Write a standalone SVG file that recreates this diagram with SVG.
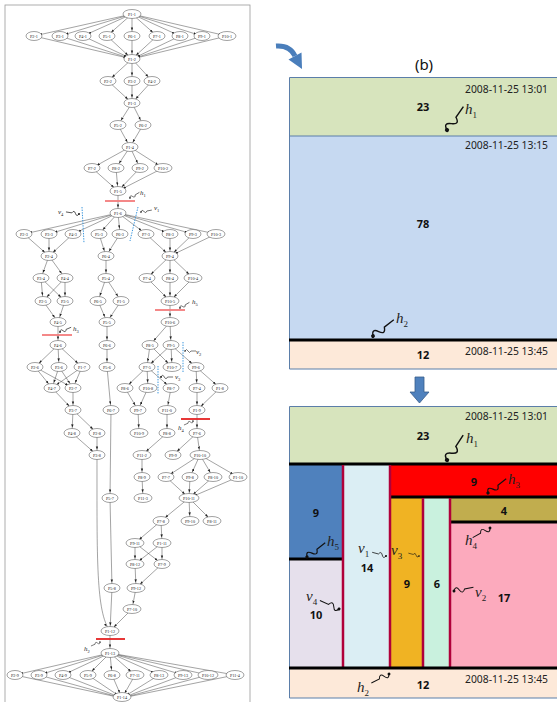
<svg xmlns="http://www.w3.org/2000/svg" width="557" height="702" viewBox="0 0 557 702">
<style>
.n ellipse{fill:#fff;stroke:#444;stroke-width:0.5}
.n text{font-family:"Liberation Serif",serif;font-size:4.2px;text-anchor:middle;fill:#222}
.e line,.e path{stroke:#333;stroke-width:0.45;fill:none;marker-end:url(#ah)}
.cut{stroke-width:1.8}
.vd{stroke:#3a96dd;stroke-width:1;stroke-dasharray:1.4 1.2;fill:none}
.lt{font-family:"Liberation Serif",serif;font-style:italic;font-size:7px;fill:#222}
.lt .s{font-size:4.5px;font-style:normal}
.d{font-family:"Noto Sans","Liberation Sans",sans-serif;font-size:11.5px;fill:#222;text-anchor:end}
.b{font-family:"Noto Sans","Liberation Sans",sans-serif;font-weight:bold;font-size:11px;text-anchor:middle;fill:#111}
.it{font-family:"Liberation Serif",serif;font-style:italic;font-size:15px;fill:#222}
.it .s{font-size:9px;font-style:normal}
.bk{stroke:#000;stroke-width:3}
.cr{stroke:#b0003a;stroke-width:2.5}
.pb{stroke:#5b7ea9;stroke-width:1}
</style>
<defs>
<marker id="ah" markerUnits="userSpaceOnUse" markerWidth="10" markerHeight="3" refX="8.6" refY="1.2" orient="auto"><path d="M0,0 L3,1.2 L0,2.4z" fill="#222"/></marker>
<g id="sq"><path d="M0,0 q3,-6 6,0 t6,0 l10,0" fill="none" stroke="#111" stroke-width="1.1"/><circle r="1.6" fill="#111"/></g>
</defs>

<!-- left frame -->
<rect x="5" y="5" width="245" height="700" fill="#fff" stroke="#999" stroke-width="0.8"/>

<g id="connectors" class="e">
<line x1="132" y1="14" x2="34" y2="36"/><line x1="132" y1="14" x2="60" y2="36"/><line x1="132" y1="14" x2="83" y2="36"/><line x1="132" y1="14" x2="107" y2="36"/><line x1="132" y1="14" x2="132" y2="36"/><line x1="132" y1="14" x2="157" y2="36"/><line x1="132" y1="14" x2="180" y2="36"/><line x1="132" y1="14" x2="202" y2="36"/><line x1="132" y1="14" x2="227" y2="36"/>
<line x1="34" y1="36" x2="132" y2="59"/><line x1="60" y1="36" x2="132" y2="59"/><line x1="83" y1="36" x2="132" y2="59"/><line x1="107" y1="36" x2="132" y2="59"/><line x1="132" y1="36" x2="132" y2="59"/><line x1="157" y1="36" x2="132" y2="59"/><line x1="180" y1="36" x2="132" y2="59"/><line x1="202" y1="36" x2="132" y2="59"/><line x1="227" y1="36" x2="132" y2="59"/>
<line x1="132" y1="59" x2="108" y2="81"/><line x1="132" y1="59" x2="132" y2="81"/><line x1="132" y1="59" x2="152" y2="81"/>
<line x1="108" y1="81" x2="132" y2="103"/><line x1="132" y1="81" x2="132" y2="103"/><line x1="152" y1="81" x2="132" y2="103"/>
<line x1="132" y1="103" x2="118" y2="125"/><line x1="132" y1="103" x2="143" y2="125"/>
<line x1="118" y1="125" x2="130" y2="147"/><line x1="143" y1="125" x2="130" y2="147"/>
<line x1="130" y1="147" x2="92" y2="168"/><line x1="130" y1="147" x2="116" y2="168"/><line x1="130" y1="147" x2="140" y2="168"/><line x1="130" y1="147" x2="163" y2="168"/>
<line x1="92" y1="168" x2="118" y2="191"/><line x1="116" y1="168" x2="118" y2="191"/><line x1="140" y1="168" x2="118" y2="191"/><line x1="163" y1="168" x2="118" y2="191"/>
<line x1="118" y1="191" x2="118" y2="213"/>
<line x1="118" y1="213" x2="24" y2="234"/><line x1="118" y1="213" x2="49" y2="234"/><line x1="118" y1="213" x2="73" y2="234"/><line x1="118" y1="213" x2="99" y2="234"/><line x1="118" y1="213" x2="120" y2="234"/><line x1="118" y1="213" x2="146" y2="234"/><line x1="118" y1="213" x2="170" y2="234"/><line x1="118" y1="213" x2="193" y2="234"/><line x1="118" y1="213" x2="216" y2="234"/>
<line x1="24" y1="234" x2="49" y2="256"/><line x1="49" y1="234" x2="49" y2="256"/><line x1="73" y1="234" x2="49" y2="256"/>
<line x1="99" y1="234" x2="106" y2="256"/><line x1="120" y1="234" x2="106" y2="256"/>
<line x1="146" y1="234" x2="170" y2="256"/><line x1="170" y1="234" x2="170" y2="256"/><line x1="193" y1="234" x2="170" y2="256"/><line x1="216" y1="234" x2="170" y2="256"/>
<line x1="49" y1="256" x2="41" y2="278"/><line x1="49" y1="256" x2="65" y2="278"/>
<line x1="41" y1="278" x2="43" y2="301"/><line x1="41" y1="278" x2="65" y2="301"/><line x1="65" y1="278" x2="43" y2="301"/><line x1="65" y1="278" x2="65" y2="301"/>
<line x1="43" y1="301" x2="58" y2="322"/><line x1="65" y1="301" x2="58" y2="322"/>
<line x1="58" y1="322" x2="58" y2="345"/>
<line x1="106" y1="256" x2="106" y2="278"/>
<line x1="106" y1="278" x2="98" y2="301"/><line x1="106" y1="278" x2="121" y2="301"/>
<line x1="98" y1="301" x2="107" y2="322"/><line x1="121" y1="301" x2="107" y2="322"/>
<line x1="107" y1="322" x2="107" y2="345"/>
<line x1="107" y1="345" x2="107" y2="367"/>
<line x1="107" y1="367" x2="111" y2="410"/>
<line x1="111" y1="410" x2="110" y2="498"/>
<line x1="110" y1="498" x2="112" y2="588"/>
<line x1="112" y1="588" x2="110" y2="631"/>
<line x1="170" y1="256" x2="147" y2="278"/><line x1="170" y1="256" x2="170" y2="278"/><line x1="170" y1="256" x2="193" y2="278"/>
<line x1="147" y1="278" x2="170" y2="301"/><line x1="170" y1="278" x2="170" y2="301"/><line x1="193" y1="278" x2="170" y2="301"/>
<line x1="170" y1="301" x2="170" y2="322"/>
<line x1="170" y1="322" x2="150" y2="345"/><line x1="170" y1="322" x2="171" y2="345"/>
<line x1="150" y1="345" x2="147" y2="367"/><line x1="150" y1="345" x2="172" y2="367"/>
<line x1="171" y1="345" x2="147" y2="367"/><line x1="171" y1="345" x2="172" y2="367"/><line x1="171" y1="345" x2="196" y2="367"/>
<line x1="58" y1="345" x2="35" y2="367"/><line x1="58" y1="345" x2="59" y2="367"/><line x1="58" y1="345" x2="82" y2="367"/>
<line x1="35" y1="367" x2="52" y2="388"/><line x1="35" y1="367" x2="73" y2="388"/><line x1="59" y1="367" x2="52" y2="388"/><line x1="59" y1="367" x2="73" y2="388"/><line x1="82" y1="367" x2="52" y2="388"/><line x1="82" y1="367" x2="73" y2="388"/>
<line x1="52" y1="388" x2="73" y2="410"/><line x1="73" y1="388" x2="73" y2="410"/>
<line x1="73" y1="410" x2="72" y2="433"/><line x1="73" y1="410" x2="97" y2="433"/>
<line x1="72" y1="433" x2="97" y2="455"/><line x1="97" y1="433" x2="97" y2="455"/>
<path d="M97,455 C97,560 96,612 110,631"/>
<line x1="147" y1="367" x2="125" y2="388"/><line x1="147" y1="367" x2="148" y2="388"/><line x1="147" y1="367" x2="171" y2="388"/>
<line x1="196" y1="367" x2="197" y2="388"/><line x1="196" y1="367" x2="220" y2="388"/>
<line x1="125" y1="388" x2="138" y2="410"/><line x1="148" y1="388" x2="138" y2="410"/>
<line x1="171" y1="388" x2="167" y2="410"/>
<line x1="197" y1="388" x2="197" y2="410"/><line x1="220" y1="388" x2="197" y2="410"/>
<line x1="138" y1="410" x2="139" y2="433"/>
<line x1="167" y1="410" x2="167" y2="433"/>
<line x1="197" y1="410" x2="197" y2="433"/>
<line x1="167" y1="433" x2="142" y2="455"/>
<line x1="197" y1="433" x2="173" y2="455"/><line x1="197" y1="433" x2="200" y2="455"/>
<line x1="142" y1="455" x2="142" y2="477"/>
<line x1="142" y1="477" x2="143" y2="498"/>
<line x1="200" y1="455" x2="166" y2="477"/><line x1="200" y1="455" x2="190" y2="477"/><line x1="200" y1="455" x2="213" y2="477"/><line x1="200" y1="455" x2="238" y2="477"/>
<line x1="166" y1="477" x2="189" y2="498"/><line x1="190" y1="477" x2="189" y2="498"/><line x1="213" y1="477" x2="189" y2="498"/><line x1="238" y1="477" x2="189" y2="498"/>
<line x1="189" y1="498" x2="161" y2="521"/><line x1="189" y1="498" x2="190" y2="521"/><line x1="189" y1="498" x2="212" y2="521"/>
<line x1="161" y1="521" x2="135" y2="543"/><line x1="161" y1="521" x2="162" y2="543"/>
<line x1="135" y1="543" x2="135" y2="564"/><line x1="135" y1="543" x2="162" y2="564"/><line x1="162" y1="543" x2="135" y2="564"/><line x1="162" y1="543" x2="162" y2="564"/>
<line x1="135" y1="564" x2="136" y2="588"/><line x1="162" y1="564" x2="136" y2="588"/>
<line x1="136" y1="588" x2="132" y2="609"/>
<line x1="132" y1="609" x2="110" y2="631"/>
<line x1="110" y1="631" x2="110" y2="653"/>
<line x1="110" y1="653" x2="15" y2="675"/><line x1="110" y1="653" x2="39" y2="675"/><line x1="110" y1="653" x2="63" y2="675"/><line x1="110" y1="653" x2="88" y2="675"/><line x1="110" y1="653" x2="112" y2="675"/><line x1="110" y1="653" x2="135" y2="675"/><line x1="110" y1="653" x2="159" y2="675"/><line x1="110" y1="653" x2="183" y2="675"/><line x1="110" y1="653" x2="208" y2="675"/><line x1="110" y1="653" x2="235" y2="675"/>
<line x1="15" y1="675" x2="122" y2="698"/><line x1="39" y1="675" x2="122" y2="698"/><line x1="63" y1="675" x2="122" y2="698"/><line x1="88" y1="675" x2="122" y2="698"/><line x1="112" y1="675" x2="122" y2="698"/><line x1="135" y1="675" x2="122" y2="698"/><line x1="159" y1="675" x2="122" y2="698"/><line x1="183" y1="675" x2="122" y2="698"/><line x1="208" y1="675" x2="122" y2="698"/><line x1="235" y1="675" x2="122" y2="698"/>
</g>

<g id="nodes">
<g id="P1-1" class="n"><ellipse cx="132" cy="14" rx="9" ry="4.5"/><text x="132" y="15.5">P1-1</text></g>
<g id="P2-1" class="n"><ellipse cx="34" cy="36" rx="8" ry="4.5"/><text x="34" y="37.5">P2-1</text></g>
<g id="P3-1" class="n"><ellipse cx="60" cy="36" rx="8" ry="4.5"/><text x="60" y="37.5">P3-1</text></g>
<g id="P4-1" class="n"><ellipse cx="83" cy="36" rx="8" ry="4.5"/><text x="83" y="37.5">P4-1</text></g>
<g id="P5-1" class="n"><ellipse cx="107" cy="36" rx="8" ry="4.5"/><text x="107" y="37.5">P5-1</text></g>
<g id="P6-1" class="n"><ellipse cx="132" cy="36" rx="8" ry="4.5"/><text x="132" y="37.5">P6-1</text></g>
<g id="P7-1" class="n"><ellipse cx="157" cy="36" rx="8" ry="4.5"/><text x="157" y="37.5">P7-1</text></g>
<g id="P8-1" class="n"><ellipse cx="180" cy="36" rx="8" ry="4.5"/><text x="180" y="37.5">P8-1</text></g>
<g id="P9-1" class="n"><ellipse cx="202" cy="36" rx="8" ry="4.5"/><text x="202" y="37.5">P9-1</text></g>
<g id="P10-1" class="n"><ellipse cx="227" cy="36" rx="9" ry="4.5"/><text x="227" y="37.5">P10-1</text></g>
<g id="P1-2" class="n"><ellipse cx="132" cy="59" rx="8" ry="4.5"/><text x="132" y="60.5">P1-2</text></g>
<g id="P2-2" class="n"><ellipse cx="108" cy="81" rx="8" ry="4.5"/><text x="108" y="82.5">P2-2</text></g>
<g id="P3-2" class="n"><ellipse cx="132" cy="81" rx="8" ry="4.5"/><text x="132" y="82.5">P3-2</text></g>
<g id="P4-2" class="n"><ellipse cx="152" cy="81" rx="8" ry="4.5"/><text x="152" y="82.5">P4-2</text></g>
<g id="P1-3" class="n"><ellipse cx="132" cy="103" rx="8" ry="4.5"/><text x="132" y="104.5">P1-3</text></g>
<g id="P5-2" class="n"><ellipse cx="118" cy="125" rx="8" ry="4.5"/><text x="118" y="126.5">P5-2</text></g>
<g id="P6-2" class="n"><ellipse cx="143" cy="125" rx="8" ry="4.5"/><text x="143" y="126.5">P6-2</text></g>
<g id="P1-4" class="n"><ellipse cx="130" cy="147" rx="8" ry="4.5"/><text x="130" y="148.5">P1-4</text></g>
<g id="P7-2" class="n"><ellipse cx="92" cy="168" rx="8" ry="4.5"/><text x="92" y="169.5">P7-2</text></g>
<g id="P8-2" class="n"><ellipse cx="116" cy="168" rx="8" ry="4.5"/><text x="116" y="169.5">P8-2</text></g>
<g id="P9-2" class="n"><ellipse cx="140" cy="168" rx="8" ry="4.5"/><text x="140" y="169.5">P9-2</text></g>
<g id="P10-2" class="n"><ellipse cx="163" cy="168" rx="9" ry="4.5"/><text x="163" y="169.5">P10-2</text></g>
<g id="P1-5" class="n"><ellipse cx="118" cy="191" rx="8" ry="4.5"/><text x="118" y="192.5">P1-5</text></g>
<g id="P1-6" class="n"><ellipse cx="118" cy="213" rx="8" ry="4.5"/><text x="118" y="214.5">P1-6</text></g>
<g id="P2-3" class="n"><ellipse cx="24" cy="234" rx="8" ry="4.5"/><text x="24" y="235.5">P2-3</text></g>
<g id="P3-3" class="n"><ellipse cx="49" cy="234" rx="8" ry="4.5"/><text x="49" y="235.5">P3-3</text></g>
<g id="P4-3" class="n"><ellipse cx="73" cy="234" rx="8" ry="4.5"/><text x="73" y="235.5">P4-3</text></g>
<g id="P5-3" class="n"><ellipse cx="99" cy="234" rx="8" ry="4.5"/><text x="99" y="235.5">P5-3</text></g>
<g id="P6-3" class="n"><ellipse cx="120" cy="234" rx="8" ry="4.5"/><text x="120" y="235.5">P6-3</text></g>
<g id="P7-3" class="n"><ellipse cx="146" cy="234" rx="8" ry="4.5"/><text x="146" y="235.5">P7-3</text></g>
<g id="P8-3" class="n"><ellipse cx="170" cy="234" rx="8" ry="4.5"/><text x="170" y="235.5">P8-3</text></g>
<g id="P9-3" class="n"><ellipse cx="193" cy="234" rx="8" ry="4.5"/><text x="193" y="235.5">P9-3</text></g>
<g id="P10-3" class="n"><ellipse cx="216" cy="234" rx="9" ry="4.5"/><text x="216" y="235.5">P10-3</text></g>
<g id="P2-4" class="n"><ellipse cx="49" cy="256" rx="8" ry="4.5"/><text x="49" y="257.5">P2-4</text></g>
<g id="P6-4" class="n"><ellipse cx="106" cy="256" rx="8" ry="4.5"/><text x="106" y="257.5">P6-4</text></g>
<g id="P9-4" class="n"><ellipse cx="170" cy="256" rx="8" ry="4.5"/><text x="170" y="257.5">P9-4</text></g>
<g id="P3-4" class="n"><ellipse cx="41" cy="278" rx="8" ry="4.5"/><text x="41" y="279.5">P3-4</text></g>
<g id="P4-4" class="n"><ellipse cx="65" cy="278" rx="8" ry="4.5"/><text x="65" y="279.5">P4-4</text></g>
<g id="P5-4" class="n"><ellipse cx="106" cy="278" rx="8" ry="4.5"/><text x="106" y="279.5">P5-4</text></g>
<g id="P7-4" class="n"><ellipse cx="147" cy="278" rx="8" ry="4.5"/><text x="147" y="279.5">P7-4</text></g>
<g id="P8-4" class="n"><ellipse cx="170" cy="278" rx="8" ry="4.5"/><text x="170" y="279.5">P8-4</text></g>
<g id="P10-4" class="n"><ellipse cx="193" cy="278" rx="9" ry="4.5"/><text x="193" y="279.5">P10-4</text></g>
<g id="P2-5" class="n"><ellipse cx="43" cy="301" rx="8" ry="4.5"/><text x="43" y="302.5">P2-5</text></g>
<g id="P3-5" class="n"><ellipse cx="65" cy="301" rx="8" ry="4.5"/><text x="65" y="302.5">P3-5</text></g>
<g id="P6-5" class="n"><ellipse cx="98" cy="301" rx="8" ry="4.5"/><text x="98" y="302.5">P6-5</text></g>
<g id="P1-5b" class="n"><ellipse cx="121" cy="301" rx="8" ry="4.5"/><text x="121" y="302.5">P1-5</text></g>
<g id="P10-5" class="n"><ellipse cx="170" cy="301" rx="9" ry="4.5"/><text x="170" y="302.5">P10-5</text></g>
<g id="P4-5" class="n"><ellipse cx="58" cy="322" rx="8" ry="4.5"/><text x="58" y="323.5">P4-5</text></g>
<g id="P5-5" class="n"><ellipse cx="107" cy="322" rx="8" ry="4.5"/><text x="107" y="323.5">P5-5</text></g>
<g id="P10-6" class="n"><ellipse cx="170" cy="322" rx="9" ry="4.5"/><text x="170" y="323.5">P10-6</text></g>
<g id="P4-6" class="n"><ellipse cx="58" cy="345" rx="8" ry="4.5"/><text x="58" y="346.5">P4-6</text></g>
<g id="P6-6" class="n"><ellipse cx="107" cy="345" rx="8" ry="4.5"/><text x="107" y="346.5">P6-6</text></g>
<g id="P8-5" class="n"><ellipse cx="150" cy="345" rx="8" ry="4.5"/><text x="150" y="346.5">P8-5</text></g>
<g id="P9-5" class="n"><ellipse cx="171" cy="345" rx="8" ry="4.5"/><text x="171" y="346.5">P9-5</text></g>
<g id="P2-6" class="n"><ellipse cx="35" cy="367" rx="8" ry="4.5"/><text x="35" y="368.5">P2-6</text></g>
<g id="P3-6" class="n"><ellipse cx="59" cy="367" rx="8" ry="4.5"/><text x="59" y="368.5">P3-6</text></g>
<g id="P1-7" class="n"><ellipse cx="82" cy="367" rx="8" ry="4.5"/><text x="82" y="368.5">P1-7</text></g>
<g id="P5-6" class="n"><ellipse cx="107" cy="367" rx="8" ry="4.5"/><text x="107" y="368.5">P5-6</text></g>
<g id="P7-5" class="n"><ellipse cx="147" cy="367" rx="8" ry="4.5"/><text x="147" y="368.5">P7-5</text></g>
<g id="P10-7" class="n"><ellipse cx="172" cy="367" rx="9" ry="4.5"/><text x="172" y="368.5">P10-7</text></g>
<g id="P9-6" class="n"><ellipse cx="196" cy="367" rx="8" ry="4.5"/><text x="196" y="368.5">P9-6</text></g>
<g id="P4-7" class="n"><ellipse cx="52" cy="388" rx="8" ry="4.5"/><text x="52" y="389.5">P4-7</text></g>
<g id="P2-7" class="n"><ellipse cx="73" cy="388" rx="8" ry="4.5"/><text x="73" y="389.5">P2-7</text></g>
<g id="P8-6" class="n"><ellipse cx="125" cy="388" rx="8" ry="4.5"/><text x="125" y="389.5">P8-6</text></g>
<g id="P10-8" class="n"><ellipse cx="148" cy="388" rx="9" ry="4.5"/><text x="148" y="389.5">P10-8</text></g>
<g id="P8-7" class="n"><ellipse cx="171" cy="388" rx="8" ry="4.5"/><text x="171" y="389.5">P8-7</text></g>
<g id="P7-4b" class="n"><ellipse cx="197" cy="388" rx="8" ry="4.5"/><text x="197" y="389.5">P7-4</text></g>
<g id="P1-8" class="n"><ellipse cx="220" cy="388" rx="8" ry="4.5"/><text x="220" y="389.5">P1-8</text></g>
<g id="P3-7" class="n"><ellipse cx="73" cy="410" rx="8" ry="4.5"/><text x="73" y="411.5">P3-7</text></g>
<g id="P6-7" class="n"><ellipse cx="111" cy="410" rx="8" ry="4.5"/><text x="111" y="411.5">P6-7</text></g>
<g id="P9-7" class="n"><ellipse cx="138" cy="410" rx="8" ry="4.5"/><text x="138" y="411.5">P9-7</text></g>
<g id="P11-0" class="n"><ellipse cx="167" cy="410" rx="9" ry="4.5"/><text x="167" y="411.5">P11-0</text></g>
<g id="P1-9" class="n"><ellipse cx="197" cy="410" rx="8" ry="4.5"/><text x="197" y="411.5">P1-9</text></g>
<g id="P4-8" class="n"><ellipse cx="72" cy="433" rx="8" ry="4.5"/><text x="72" y="434.5">P4-8</text></g>
<g id="P2-8" class="n"><ellipse cx="97" cy="433" rx="8" ry="4.5"/><text x="97" y="434.5">P2-8</text></g>
<g id="P10-9" class="n"><ellipse cx="139" cy="433" rx="9" ry="4.5"/><text x="139" y="434.5">P10-9</text></g>
<g id="P8-8" class="n"><ellipse cx="167" cy="433" rx="8" ry="4.5"/><text x="167" y="434.5">P8-8</text></g>
<g id="P7-6" class="n"><ellipse cx="197" cy="433" rx="8" ry="4.5"/><text x="197" y="434.5">P7-6</text></g>
<g id="P3-8" class="n"><ellipse cx="97" cy="455" rx="8" ry="4.5"/><text x="97" y="456.5">P3-8</text></g>
<g id="P11-2" class="n"><ellipse cx="142" cy="455" rx="9" ry="4.5"/><text x="142" y="456.5">P11-2</text></g>
<g id="P9-9" class="n"><ellipse cx="173" cy="455" rx="8" ry="4.5"/><text x="173" y="456.5">P9-9</text></g>
<g id="P10-10" class="n"><ellipse cx="200" cy="455" rx="10" ry="4.5"/><text x="200" y="456.5">P10-10</text></g>
<g id="P8-9" class="n"><ellipse cx="142" cy="477" rx="8" ry="4.5"/><text x="142" y="478.5">P8-9</text></g>
<g id="P7-7" class="n"><ellipse cx="166" cy="477" rx="8" ry="4.5"/><text x="166" y="478.5">P7-7</text></g>
<g id="P9-8" class="n"><ellipse cx="190" cy="477" rx="8" ry="4.5"/><text x="190" y="478.5">P9-8</text></g>
<g id="P8-10" class="n"><ellipse cx="213" cy="477" rx="9" ry="4.5"/><text x="213" y="478.5">P8-10</text></g>
<g id="P1-10" class="n"><ellipse cx="238" cy="477" rx="9" ry="4.5"/><text x="238" y="478.5">P1-10</text></g>
<g id="P5-7" class="n"><ellipse cx="110" cy="498" rx="8" ry="4.5"/><text x="110" y="499.5">P5-7</text></g>
<g id="P11-3" class="n"><ellipse cx="143" cy="498" rx="9" ry="4.5"/><text x="143" y="499.5">P11-3</text></g>
<g id="P10-11" class="n"><ellipse cx="189" cy="498" rx="10" ry="4.5"/><text x="189" y="499.5">P10-11</text></g>
<g id="P7-8" class="n"><ellipse cx="161" cy="521" rx="8" ry="4.5"/><text x="161" y="522.5">P7-8</text></g>
<g id="P9-10" class="n"><ellipse cx="190" cy="521" rx="9" ry="4.5"/><text x="190" y="522.5">P9-10</text></g>
<g id="P8-11" class="n"><ellipse cx="212" cy="521" rx="9" ry="4.5"/><text x="212" y="522.5">P8-11</text></g>
<g id="P9-11" class="n"><ellipse cx="135" cy="543" rx="9" ry="4.5"/><text x="135" y="544.5">P9-11</text></g>
<g id="P1-11" class="n"><ellipse cx="162" cy="543" rx="9" ry="4.5"/><text x="162" y="544.5">P1-11</text></g>
<g id="P8-12" class="n"><ellipse cx="135" cy="564" rx="9" ry="4.5"/><text x="135" y="565.5">P8-12</text></g>
<g id="P7-9" class="n"><ellipse cx="162" cy="564" rx="8" ry="4.5"/><text x="162" y="565.5">P7-9</text></g>
<g id="P5-8" class="n"><ellipse cx="112" cy="588" rx="8" ry="4.5"/><text x="112" y="589.5">P5-8</text></g>
<g id="P9-12" class="n"><ellipse cx="136" cy="588" rx="9" ry="4.5"/><text x="136" y="589.5">P9-12</text></g>
<g id="P7-10" class="n"><ellipse cx="132" cy="609" rx="9" ry="4.5"/><text x="132" y="610.5">P7-10</text></g>
<g id="P1-12" class="n"><ellipse cx="110" cy="631" rx="9" ry="4.5"/><text x="110" y="632.5">P1-12</text></g>
<g id="P1-13" class="n"><ellipse cx="110" cy="653" rx="9" ry="4.5"/><text x="110" y="654.5">P1-13</text></g>
<g id="P2-9" class="n"><ellipse cx="15" cy="675" rx="8" ry="4.5"/><text x="15" y="676.5">P2-9</text></g>
<g id="P3-9" class="n"><ellipse cx="39" cy="675" rx="8" ry="4.5"/><text x="39" y="676.5">P3-9</text></g>
<g id="P4-9" class="n"><ellipse cx="63" cy="675" rx="8" ry="4.5"/><text x="63" y="676.5">P4-9</text></g>
<g id="P5-9" class="n"><ellipse cx="88" cy="675" rx="8" ry="4.5"/><text x="88" y="676.5">P5-9</text></g>
<g id="P6-8" class="n"><ellipse cx="112" cy="675" rx="8" ry="4.5"/><text x="112" y="676.5">P6-8</text></g>
<g id="P7-11" class="n"><ellipse cx="135" cy="675" rx="9" ry="4.5"/><text x="135" y="676.5">P7-11</text></g>
<g id="P8-13" class="n"><ellipse cx="159" cy="675" rx="9" ry="4.5"/><text x="159" y="676.5">P8-13</text></g>
<g id="P9-13" class="n"><ellipse cx="183" cy="675" rx="9" ry="4.5"/><text x="183" y="676.5">P9-13</text></g>
<g id="P10-12" class="n"><ellipse cx="208" cy="675" rx="10" ry="4.5"/><text x="208" y="676.5">P10-12</text></g>
<g id="P11-4" class="n"><ellipse cx="235" cy="675" rx="9" ry="4.5"/><text x="235" y="676.5">P11-4</text></g>
<g id="P1-14" class="n"><ellipse cx="122" cy="697" rx="9" ry="4.5"/><text x="122" y="698.5">P1-14</text></g>
</g>

<!-- cuts on left graph -->
<g id="cuts">
<line class="cut" x1="105" y1="201" x2="135" y2="201" stroke="#f37b7b"/>
<line class="cut" x1="155" y1="310" x2="185" y2="310" stroke="#f37b7b"/>
<line class="cut" x1="42" y1="335" x2="72" y2="335" stroke="#f37b7b"/>
<line class="cut" x1="181" y1="419" x2="210" y2="419" stroke="#e52222"/>
<line class="cut" x1="96" y1="639" x2="125" y2="639" stroke="#e52222"/>
<path class="vd" d="M82,207 L84,243"/>
<path class="vd" d="M138,207 L130,241"/>
<path class="vd" d="M183,342 L183,372"/>
<path class="vd" d="M158,366 L158,394"/>
<use href="#sq" transform="translate(130,198) rotate(-31) scale(0.5)"/>
<use href="#sq" transform="translate(79,214) rotate(-171) scale(0.6)"/>
<use href="#sq" transform="translate(141,212) rotate(-10) scale(0.5)"/>
<use href="#sq" transform="translate(180,308) rotate(-31) scale(0.5)"/>
<use href="#sq" transform="translate(60,332) rotate(-23) scale(0.55)"/>
<use href="#sq" transform="translate(185,351) scale(0.5)"/>
<use href="#sq" transform="translate(161,377) scale(0.55)"/>
<use href="#sq" transform="translate(193,421) rotate(156) scale(0.45)"/>
<use href="#sq" transform="translate(100,642) rotate(156) scale(0.45)"/>
<text class="lt" x="140" y="195">h<tspan class="s" dy="2">1</tspan></text>
<text class="lt" x="58" y="214">v<tspan class="s" dy="2">4</tspan></text>
<text class="lt" x="154" y="210">v<tspan class="s" dy="2">1</tspan></text>
<text class="lt" x="192" y="304">h<tspan class="s" dy="2">5</tspan></text>
<text class="lt" x="73" y="331">h<tspan class="s" dy="2">3</tspan></text>
<text class="lt" x="196" y="354">v<tspan class="s" dy="2">2</tspan></text>
<text class="lt" x="175" y="379">v<tspan class="s" dy="2">3</tspan></text>
<text class="lt" x="178" y="430">h<tspan class="s" dy="2">4</tspan></text>
<text class="lt" x="84" y="651">h<tspan class="s" dy="2">2</tspan></text>
</g>

<!-- curved arrow -->
<g id="curved-arrow">
<path d="M276,46 Q290,45 295,56" fill="none" stroke="#4a7ebb" stroke-width="5"/>
<polygon points="288.5,59.5 301.5,52.5 302,69" fill="#4a7ebb"/>
</g>
<text x="424" y="70" font-family="Noto Sans, Liberation Sans, sans-serif" font-size="15" text-anchor="middle" fill="#111">(b)</text>

<!-- top panel -->
<g id="panel-top">
<rect x="289.5" y="77.5" width="267.5" height="58.5" fill="#d7e4bd"/>
<rect x="289.5" y="136" width="267.5" height="203" fill="#c6d9f1"/>
<rect x="289.5" y="340" width="267.5" height="29" fill="#fde9d9"/>
<path class="pb" d="M557,77.5 H289.5 V369 H557 M289.5,136 H557" fill="none"/>
<line class="bk" x1="289" y1="340" x2="557" y2="340"/>
<text class="d" x="548" y="93" textLength="83" lengthAdjust="spacingAndGlyphs">2008-11-25 13:01</text>
<text class="d" x="548" y="149" textLength="83" lengthAdjust="spacingAndGlyphs">2008-11-25 13:15</text>
<text class="d" x="548" y="355" textLength="83" lengthAdjust="spacingAndGlyphs">2008-11-25 13:45</text>
<text class="b" x="423" y="111">23</text>
<text class="b" x="423" y="228">78</text>
<text class="b" x="423" y="359">12</text>
<use href="#sq" transform="translate(447,130) rotate(-55) scale(1.3)"/>
<text class="it" x="465" y="114">h<tspan class="s" dy="4">1</tspan></text>
<use href="#sq" transform="translate(373,336) rotate(-38) scale(1.2)"/>
<text class="it" x="396" y="323">h<tspan class="s" dy="4">2</tspan></text>
</g>

<!-- down arrow -->
<g id="down-arrow">
<polygon points="415,377 424,377 424,392 429,392 419.5,403 410,392 415,392" fill="#4f81bd" stroke="#385d8a" stroke-width="0.8"/>
</g>

<!-- bottom panel -->
<g id="panel-bottom">
<rect x="289.5" y="406.5" width="267.5" height="291.5" fill="#fde9d9"/>
<rect x="290" y="407" width="267" height="56" fill="#d7e4bd"/>
<rect x="290" y="465" width="53" height="94" fill="#4f81bd"/>
<rect x="290" y="560" width="53" height="108" fill="#e6e0ec"/>
<rect x="343" y="465" width="47" height="203" fill="#dbeef4"/>
<rect x="390" y="465" width="167" height="32" fill="#ff0000"/>
<rect x="390" y="498" width="33" height="170" fill="#f0b323"/>
<rect x="423" y="498" width="27" height="170" fill="#c9f1de"/>
<rect x="450" y="498" width="107" height="24" fill="#c1ad4e"/>
<rect x="450" y="523" width="107" height="145" fill="#fcaabd"/>
<path class="pb" d="M557,406.5 H289.5 V698 H557" fill="none"/>
<line class="bk" x1="289" y1="464" x2="557" y2="464"/>
<line class="bk" x1="289" y1="559" x2="343" y2="559"/>
<line class="bk" x1="390" y1="497" x2="557" y2="497"/>
<line class="bk" x1="450" y1="522" x2="557" y2="522"/>
<line class="cr" x1="343" y1="465" x2="343" y2="668"/>
<line class="cr" x1="390" y1="465" x2="390" y2="668"/>
<line class="cr" x1="423" y1="498" x2="423" y2="668"/>
<line class="cr" x1="450" y1="498" x2="450" y2="668"/>
<line class="bk" x1="289" y1="668" x2="557" y2="668"/>
<text class="d" x="548" y="420" textLength="83" lengthAdjust="spacingAndGlyphs">2008-11-25 13:01</text>
<text class="d" x="548" y="683" textLength="83" lengthAdjust="spacingAndGlyphs">2008-11-25 13:45</text>
<text class="b" x="423" y="440">23</text>
<text class="b" x="474" y="486">9</text>
<text class="b" x="504" y="515">4</text>
<text class="b" x="316" y="517">9</text>
<text class="b" x="367" y="572">14</text>
<text class="b" x="407" y="588">9</text>
<text class="b" x="437" y="588">6</text>
<text class="b" x="504" y="602">17</text>
<text class="b" x="316" y="619">10</text>
<text class="b" x="423" y="689">12</text>
<use href="#sq" transform="translate(447,460) rotate(-57) scale(1.35)"/>
<text class="it" x="466" y="443">h<tspan class="s" dy="4">1</tspan></text>
<use href="#sq" transform="translate(488,493) rotate(-38) scale(1.05)"/>
<text class="it" x="508" y="484">h<tspan class="s" dy="4">3</tspan></text>
<use href="#sq" transform="translate(490,528) rotate(151) scale(0.9)"/>
<text class="it" x="465" y="545">h<tspan class="s" dy="4">4</tspan></text>
<use href="#sq" transform="translate(307,557) rotate(-38) scale(1.05)"/>
<text class="it" x="327" y="546">h<tspan class="s" dy="4">5</tspan></text>
<use href="#sq" transform="translate(386,556) rotate(-165) scale(0.65)"/>
<text class="it" x="358" y="553">v<tspan class="s" dy="4">1</tspan></text>
<use href="#sq" transform="translate(419,556) rotate(-165) scale(0.5)"/>
<text class="it" x="391" y="555">v<tspan class="s" dy="4">3</tspan></text>
<use href="#sq" transform="translate(339,609) rotate(-156) scale(0.95)"/>
<text class="it" x="306" y="601">v<tspan class="s" dy="4">4</tspan></text>
<use href="#sq" transform="translate(454,591) rotate(-11) scale(0.9)"/>
<text class="it" x="475" y="597">v<tspan class="s" dy="4">2</tspan></text>
<use href="#sq" transform="translate(389,674) rotate(153) scale(0.9)"/>
<text class="it" x="357" y="692">h<tspan class="s" dy="4">2</tspan></text>
</g>
</svg>
